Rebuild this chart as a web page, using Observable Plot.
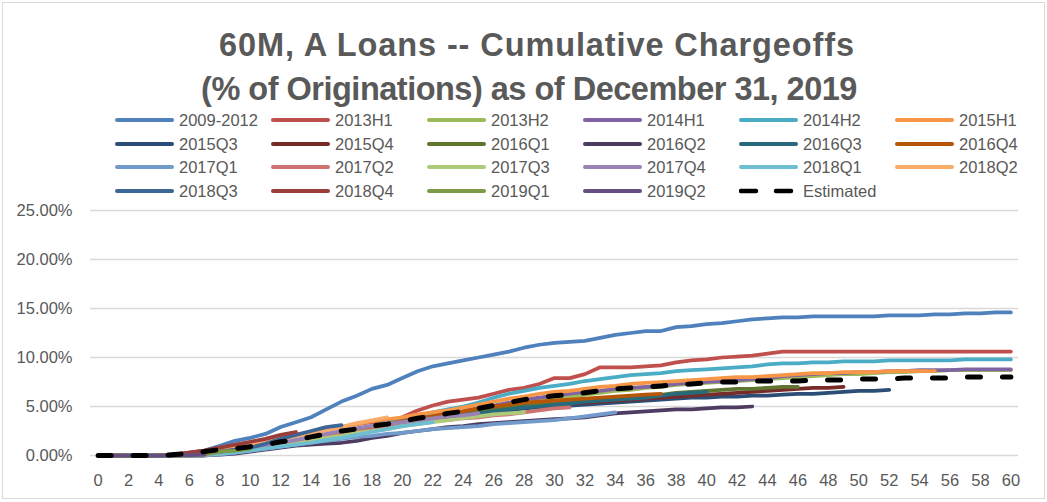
<!DOCTYPE html>
<html><head><meta charset="utf-8">
<script src="https://cdn.jsdelivr.net/npm/d3@7"></script>
<script src="https://cdn.jsdelivr.net/npm/@observablehq/plot@0.6"></script>
<style>
body{margin:0;background:#fff;font-family:"Liberation Sans",Arial,sans-serif;}
#wrap{position:relative;width:1047px;height:502px;overflow:hidden;background:#fff;}
#frame{position:absolute;left:2px;top:2px;width:1041px;height:495px;border:1px solid #D9D9D9;}
.title{position:absolute;left:0;width:1074px;text-align:center;font-weight:bold;font-size:32.5px;line-height:44px;color:#595959;white-space:nowrap;}
.leg{position:absolute;height:20px;display:flex;align-items:center;font-size:16.5px;color:#595959;white-space:nowrap;}
.leg svg{margin-right:5px;}
#chart{position:absolute;left:0;top:200px;}
</style></head>
<body><div id="wrap"><div id="frame"></div>
<div class="title" style="top:23px;letter-spacing:0.9px;">60M, A Loans -- Cumulative Chargeoffs</div>
<div class="title" style="top:67px;letter-spacing:-0.5px;left:-8px;">(% of Originations) as of December 31, 2019</div>
<div id="legend"></div>
<div id="chart"></div>
</div>
<script>
const seriesNames = ["2009-2012","2013H1","2013H2","2014H1","2014H2","2015H1","2015Q3","2015Q4","2016Q1","2016Q2","2016Q3","2016Q4","2017Q1","2017Q2","2017Q3","2017Q4","2018Q1","2018Q2","2018Q3","2018Q4","2019Q1","2019Q2"];
const seriesColors = ["#4F81BD","#C0504D","#9BBB59","#8064A2","#4BACC6","#F79646","#2C4D75","#772C2A","#5F7530","#4D3B62","#276A7C","#B65708","#729ACA","#CD7371","#AFC97A","#9983B5","#6FBDD1","#F9AB6B","#3C6696","#9A3E3B","#7D9A46","#654F82"];
const estimatedName = "Estimated";

// cumulative chargeoffs (%) by month on book, starting at month 0
const v2009_2012 = [0,0,0,0,0,0.1,0.3,0.5,1.0,1.5, 1.8,2.2,2.9,3.4,3.9,4.7,5.5,6.1,6.8,7.2, 7.9,8.6,9.1,9.4,9.7,10.0,10.3,10.6,11.0,11.3, 11.5,11.6,11.7,12.0,12.3,12.5,12.7,12.7,13.1,13.2, 13.4,13.5,13.7,13.9,14.0,14.1,14.1,14.2,14.2,14.2, 14.2,14.2,14.3,14.3,14.3,14.4,14.4,14.5,14.5,14.6, 14.6];
const v2013H1 = [0,0,0,0,0,0.1,0.3,0.5,0.8,1.1, 1.3,1.6,1.8,2.1,2.3,2.6,2.9,3.2,3.4,3.5, 3.9,4.6,5.1,5.5,5.7,5.9,6.3,6.7,6.9,7.3, 7.9,7.9,8.3,9.0,9.0,9.0,9.1,9.2,9.5,9.7, 9.8,10.0,10.1,10.2,10.4,10.6,10.6,10.6,10.6,10.6, 10.6,10.6,10.6,10.6,10.6,10.6,10.6,10.6,10.6,10.6, 10.6];
const v2013H2 = [0,0,0,0,0,0,0,0.1,0.2,0.3, 0.5,0.7,0.9,1.2,1.5,1.8,2.1,2.4,2.7,3.0, 3.3,3.6,3.8,4.0,4.2,4.5,4.8,5.1,5.4,5.6, 5.8,6.0,6.2,6.4,6.6,6.7,6.9,7.0,7.2,7.3, 7.4,7.5,7.6,7.7,7.8,7.9,8.0,8.1,8.2,8.3, 8.3,8.4,8.5,8.5,8.6,8.6,8.7,8.7,8.7,8.7, 8.7];
const v2014H1 = [0,0,0,0,0,0,0,0.1,0.2,0.4, 0.6,0.9,1.2,1.5,1.8,2.1,2.4,2.7,3.0,3.3, 3.6,3.9,4.1,4.3,4.5,4.8,5.1,5.4,5.7,5.9, 6.1,6.3,6.5,6.6,6.8,6.9,7.0,7.1,7.3,7.4, 7.5,7.6,7.7,7.8,7.9,8.1,8.2,8.3,8.4,8.4, 8.5,8.5,8.6,8.6,8.7,8.7,8.7,8.8,8.8,8.8, 8.8];
const v2014H2 = [0,0,0,0,0,0,0,0.1,0.2,0.4, 0.6,0.8,1.0,1.3,1.6,2.0,2.3,2.6,3.0,3.3, 3.6,4.0,4.4,4.7,5.0,5.4,5.9,6.3,6.6,6.9, 7.1,7.3,7.6,7.8,8.0,8.2,8.3,8.4,8.6,8.7, 8.8,8.9,9.0,9.1,9.3,9.4,9.4,9.5,9.5,9.6, 9.6,9.6,9.7,9.7,9.7,9.7,9.7,9.8,9.8,9.8, 9.8];
const v2015H1 = [0,0,0,0,0,0,0.1,0.3,0.5,0.8, 1.1,1.4,1.7,2.0,2.3,2.6,2.9,3.2,3.5,3.7, 3.9,4.2,4.4,4.6,4.9,5.2,5.5,5.8,6.0,6.3, 6.5,6.6,6.8,7.0,7.1,7.3,7.4,7.5,7.6,7.7, 7.8,7.9,8.0,8.0,8.1,8.2,8.3,8.4,8.4,8.5, 8.5,8.5,8.6,8.6,8.6,8.6];
const v2015Q3 = [0,0,0,0,0,0,0,0.1,0.2,0.4, 0.6,0.8,1.0,1.3,1.5,1.8,2.0,2.3,2.6,2.9, 3.1,3.4,3.6,3.8,4.0,4.2,4.4,4.6,4.8,4.9, 5.0,5.1,5.2,5.3,5.4,5.5,5.6,5.7,5.8,5.9, 5.9,6.0,6.0,6.1,6.1,6.2,6.3,6.3,6.4,6.5, 6.6,6.6,6.7];
const v2015Q4 = [0,0,0,0,0,0,0,0.1,0.2,0.4, 0.6,0.8,1.1,1.3,1.6,1.9,2.2,2.5,2.8,3.0, 3.3,3.6,3.8,4.0,4.2,4.4,4.6,4.8,5.0,5.1, 5.2,5.3,5.4,5.5,5.6,5.7,5.8,5.9,6.0,6.1, 6.2,6.3,6.4,6.5,6.6,6.7,6.8,6.9,6.9,7.0];
const v2016Q1 = [0,0,0,0,0,0,0,0.1,0.2,0.4, 0.6,0.8,1.1,1.4,1.7,2.0,2.3,2.6,2.9,3.1, 3.4,3.7,3.9,4.1,4.3,4.5,4.7,4.9,5.1,5.3, 5.4,5.5,5.6,5.7,5.8,5.9,6.0,6.2,6.4,6.5, 6.6,6.7,6.8,6.8,6.9,7.0,7.0];
const v2016Q2 = [0,0,0,0,0,0,0,0,0.1,0.2, 0.4,0.6,0.8,1.0,1.1,1.2,1.3,1.5,1.8,2.0, 2.3,2.5,2.7,2.9,3.0,3.2,3.3,3.4,3.5,3.6, 3.7,3.8,3.9,4.1,4.3,4.4,4.5,4.6,4.7,4.7, 4.8,4.9,4.9,5.0];
const v2016Q3 = [0,0,0,0,0,0,0,0.1,0.2,0.4, 0.6,0.8,1.0,1.2,1.5,1.8,2.1,2.4,2.7,3.0, 3.2,3.5,3.7,3.9,4.1,4.3,4.5,4.7,4.9,5.0, 5.2,5.3,5.5,5.6,5.7,5.8,5.9,6.1,6.3,6.4, 6.5];
const v2016Q4 = [0,0,0,0,0,0,0.1,0.2,0.3,0.5, 0.7,0.9,1.1,1.4,1.7,2.0,2.3,2.6,2.9,3.2, 3.5,3.8,4.0,4.3,4.5,4.8,5.0,5.2,5.4,5.5, 5.6,5.7,5.8,5.9,6.0,6.1,6.2,6.3];
const v2017Q1 = [0,0,0,0,0,0,0,0,0.1,0.3, 0.5,0.7,0.9,1.1,1.3,1.5,1.7,1.9,2.0,2.2, 2.3,2.5,2.7,2.8,2.9,3.0,3.2,3.3,3.4,3.5, 3.6,3.8,4.0,4.2,4.4];
const v2017Q2 = [0,0,0,0,0,0,0,0.1,0.2,0.4, 0.6,0.8,1.0,1.3,1.6,1.9,2.1,2.4,2.6,2.9, 3.1,3.3,3.5,3.6,3.8,3.9,4.1,4.2,4.4,4.6, 4.8,4.9];
const v2017Q3 = [0,0,0,0,0,0,0,0.1,0.2,0.4, 0.6,0.8,1.0,1.2,1.5,1.8,2.0,2.3,2.5,2.7, 3.0,3.2,3.4,3.6,3.8,4.0,4.2,4.3,4.4];
const v2017Q4 = [0,0,0,0,0,0,0.1,0.2,0.4,0.6, 0.8,1.0,1.3,1.6,1.9,2.2,2.5,2.8,3.0,3.2, 3.4,3.6,3.8,4.0,4.1,4.3];
const v2018Q1 = [0,0,0,0,0,0,0,0.1,0.2,0.3, 0.5,0.7,0.9,1.1,1.3,1.6,1.8,2.1,2.4,2.7, 3.0,3.2,3.4];
const v2018Q2 = [0,0,0,0,0,0,0.1,0.2,0.4,0.7, 1.0,1.3,1.7,2.0,2.3,2.6,2.9,3.3,3.6,3.9];
const v2018Q3 = [0,0,0,0,0,0,0.1,0.2,0.4,0.6, 0.8,1.2,1.7,2.1,2.5,2.9,3.1];
const v2018Q4 = [0,0,0,0,0,0.1,0.3,0.5,0.8,1.1, 1.4,1.7,2.1,2.4];
const v2019Q1 = [0,0,0,0,0,0,0,0.1,0.4,0.5, 0.7];
const v2019Q2 = [0,0,0,0,0,0,0.05,0.1];
const vEstimated = [0,0,0,0,0,0.1,0.2,0.4,0.6,0.7, 0.9,1.1,1.4,1.6,1.9,2.2,2.5,2.7,3.0,3.2, 3.5,3.8,4.0,4.3,4.5,4.8,5.1,5.4,5.7,5.9, 6.1,6.2,6.4,6.6,6.8,6.9,7.0,7.1,7.2,7.3, 7.4,7.5,7.5,7.6,7.6,7.6,7.6,7.7,7.7,7.7, 7.8,7.8,7.8,7.9,7.9,7.9,7.9,8.0,8.0,8.0, 8.0];

const monthCategories = [0,1,2,3,4,5,6,7,8,9,10,11,12,13,14,15,16,17,18,19,20,21,22,23,24,25,26,27,28,29,30,31,32,33,34,35,36,37,38,39,40,41,42,43,44,45,46,47,48,49,50,51,52,53,54,55,56,57,58,59,60];
const xTickLabels = [0,2,4,6,8,10,12,14,16,18,20,22,24,26,28,30,32,34,36,38,40,42,44,46,48,50,52,54,56,58,60];
const yTickValues = [0,0.05,0.10,0.15,0.20,0.25];

const seriesValues = [v2009_2012,v2013H1,v2013H2,v2014H1,v2014H2,v2015H1,v2015Q3,v2015Q4,v2016Q1,v2016Q2,v2016Q3,v2016Q4,v2017Q1,v2017Q2,v2017Q3,v2017Q4,v2018Q1,v2018Q2,v2018Q3,v2018Q4,v2019Q1,v2019Q2];

const rows = [];
seriesNames.forEach((name, i) => seriesValues[i].forEach((v, m) => rows.push({series: name, month: m, value: v / 100})));
const estRows = vEstimated.map((v, m) => ({month: m, value: v / 100}));

const chart = Plot.plot({
  width: 1047, height: 302,
  marginTop: 10, marginBottom: 47, marginLeft: 90, marginRight: 29,
  x: {type: "point", domain: monthCategories, padding: 0.5, round: false},
  y: {domain: [0, 0.25]},
  color: {domain: seriesNames, range: seriesColors},
  style: {fontFamily: '"Liberation Sans", Arial, sans-serif', fontSize: "16.5px", color: "#595959", background: "transparent", overflow: "visible"},
  marks: [
    Plot.gridY(yTickValues, {stroke: "#D9D9D9", strokeOpacity: 1, strokeWidth: 1.4}),
    Plot.axisY(yTickValues, {tickSize: 0, tickPadding: 18, tickFormat: d3.format(".2%"), label: null, fill: "#595959"}),
    Plot.axisX(xTickLabels, {tickSize: 0, tickPadding: 19, label: null, fill: "#595959"}),
    Plot.line(rows, {x: "month", y: "value", z: "series", stroke: "series", strokeWidth: 3.75, strokeLinecap: "round", strokeLinejoin: "round"}),
    Plot.line(estRows, {x: "month", y: "value", stroke: "#000", strokeWidth: 5, strokeDasharray: "13,22", strokeLinecap: "round"})
  ]
});
document.getElementById("chart").appendChild(chart);

// legend (6 columns x 4 rows, row-major like Excel)
const legendNames = seriesNames.concat([estimatedName]);
const legendColors = seriesColors.concat(["#000"]);
const legendRowsY = [120, 144, 167, 191];
const legend = document.getElementById("legend");
legendNames.forEach((name, i) => {
  const col = i % 6, row = Math.floor(i / 6);
  const div = document.createElement("div");
  div.className = "leg";
  div.style.left = (117 + col * 156 - 2) + "px";
  div.style.top = (legendRowsY[row] - 10) + "px";
  const dashed = name === estimatedName;
  div.innerHTML = `<svg width="59" height="10"><line x1="2" y1="5" x2="57" y2="5" stroke="${legendColors[i]}" stroke-width="${dashed ? 4.5 : 4}" stroke-linecap="round" ${dashed ? 'stroke-dasharray="15,20"' : ''}/></svg><span>${name}</span>`;
  legend.appendChild(div);
});
</script>
</body></html>
